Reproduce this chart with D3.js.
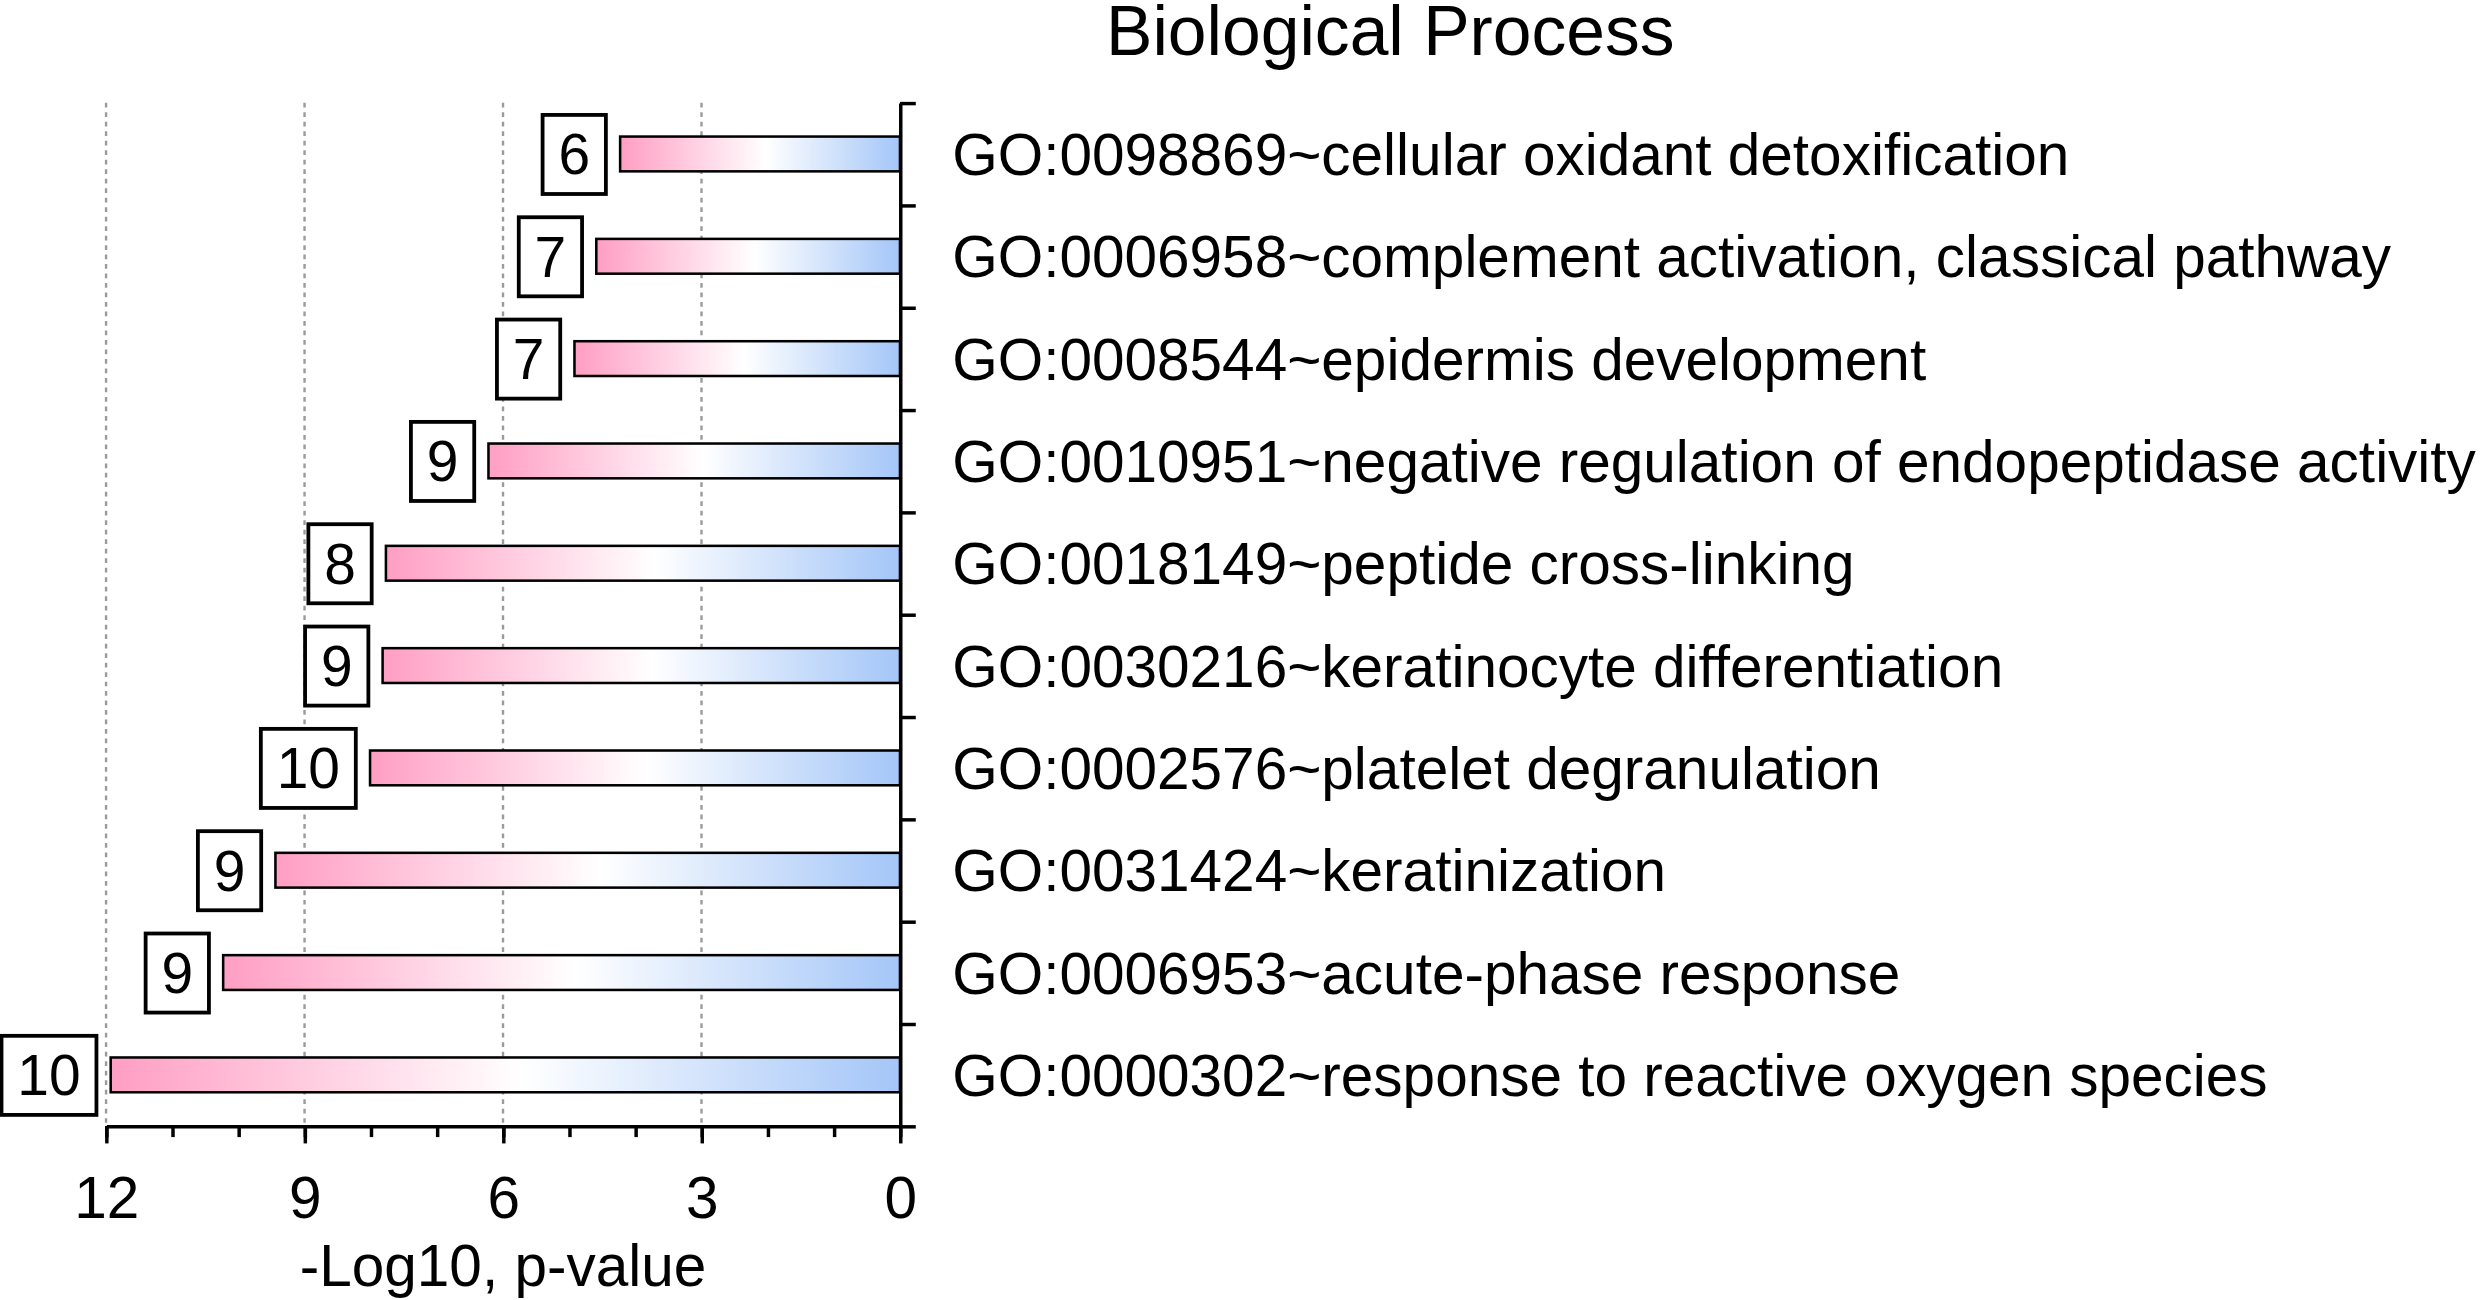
<!DOCTYPE html>
<html lang="en">
	<head>
		<meta charset="UTF-8" />
		<script src="https://cdnjs.cloudflare.com/ajax/libs/d3/7.8.5/d3.min.js"></script>
		<title>Biological Process</title>
		<style>
			html, body { margin: 0; padding: 0; background: #fff; }
			text { font-family: 'Liberation Sans', Arial, sans-serif; fill: #000; }
		</style>
	</head>
	<body>
		<div class="chart"></div>

		<script>
			// data (top row first)
			const terms = [
				'GO:0098869~cellular oxidant detoxification',
				'GO:0006958~complement activation, classical pathway',
				'GO:0008544~epidermis development',
				'GO:0010951~negative regulation of endopeptidase activity',
				'GO:0018149~peptide cross-linking',
				'GO:0030216~keratinocyte differentiation',
				'GO:0002576~platelet degranulation',
				'GO:0031424~keratinization',
				'GO:0006953~acute-phase response',
				'GO:0000302~response to reactive oxygen species'
			]
			const logP = [4.23, 4.59, 4.92, 6.22, 7.77, 7.82, 8.01, 9.44, 10.23, 11.93]
			const counts = [6, 7, 7, 9, 8, 9, 10, 9, 9, 10]
			const xTicks = [12, 9, 6, 3, 0]

			const data = terms.map((t, i) => ({ term: t, v: logP[i], n: counts[i] }))

			// drawing space is 1568 x 822, scaled up to the window
			const W = 1568
			const H = 822
			const svg = d3
				.select('.chart')
				.append('svg')
				.attr('width', 2480)
				.attr('height', 1300)
				.attr('viewBox', `0 0 ${W} ${H}`)

			const plotLeft = 67
			const plotRight = 569
			const plotTop = 65
			const plotBottom = 712

			const xScale = d3.scaleLinear().domain([12, 0]).range([plotLeft, plotRight])
			const yScale = d3
				.scaleBand()
				.domain(terms)
				.range([plotTop, plotBottom])
				.paddingInner(0.66)
				.paddingOuter(0.33)
			// row boundaries for the tick marks
			const yEdge = d3.scaleLinear().domain([0, terms.length]).range([plotTop, plotBottom])

			// gradient pink -> white -> blue
			const grad = svg
				.append('defs')
				.append('linearGradient')
				.attr('id', 'barGrad')
				.attr('x1', '0%')
				.attr('x2', '100%')
			grad.append('stop').attr('offset', '0%').attr('stop-color', '#ff9ec3')
			grad.append('stop').attr('offset', '52%').attr('stop-color', '#ffffff')
			grad.append('stop').attr('offset', '100%').attr('stop-color', '#a4c6f8')

			// grid
			svg
				.append('g')
				.selectAll('line')
				.data(xTicks.filter(d => d !== 0))
				.join('line')
				.attr('x1', d => xScale(d))
				.attr('x2', d => xScale(d))
				.attr('y1', plotTop)
				.attr('y2', plotBottom)
				.attr('stroke', '#9a9a9a')
				.attr('stroke-width', 1.5)
				.attr('stroke-dasharray', '3,3')

			// bars
			svg
				.append('g')
				.selectAll('rect')
				.data(data)
				.join('rect')
				.attr('x', d => xScale(d.v))
				.attr('y', d => yScale(d.term))
				.attr('width', d => xScale(0) - xScale(d.v))
				.attr('height', yScale.bandwidth())
				.attr('fill', 'url(#barGrad)')
				.attr('stroke', '#000')
				.attr('stroke-width', 1.6)

			// count boxes
			const boxes = svg.append('g').selectAll('g').data(data).join('g')
			boxes
				.append('text')
				.attr('class', 'cnt')
				.attr('x', d => xScale(d.v) - 19)
				.attr('y', d => yScale(d.term) + yScale.bandwidth() / 2)
				.attr('dy', '0.36em')
				.attr('text-anchor', 'end')
				.attr('font-size', 36)
				.text(d => d.n)
			boxes.each(function () {
				const g = d3.select(this)
				const b = g.select('text').node().getBBox()
				const cy = b.y + b.height / 2
				g.insert('rect', 'text')
					.attr('x', b.x - 10)
					.attr('y', cy - 25)
					.attr('width', b.width + 20)
					.attr('height', 50)
					.attr('fill', '#fff')
					.attr('stroke', '#000')
					.attr('stroke-width', 2.4)
			})

			// y axis with ticks on row boundaries
			const yAxis = svg
				.append('g')
				.attr('transform', `translate(${plotRight},0)`)
				.call(d3.axisRight(yEdge).ticks(10).tickSize(10).tickSizeOuter(0).tickFormat(''))
			yAxis.select('.domain').attr('stroke-width', 2.2)
			yAxis.selectAll('.tick line').attr('stroke-width', 2.2)

			// x axis: minor ticks every 1, major every 3
			const xAxisG = svg.append('g').attr('transform', `translate(0,${plotBottom})`)
			xAxisG
				.append('g')
				.call(d3.axisBottom(xScale).tickValues(d3.range(0, 13)).tickSize(7).tickSizeOuter(0).tickFormat(''))
				.call(g => g.selectAll('.tick line').attr('stroke-width', 2.2))
				.call(g => g.select('.domain').attr('stroke-width', 2.2))
			xAxisG
				.append('g')
				.call(d3.axisBottom(xScale).tickValues(xTicks).tickSize(11).tickSizeOuter(0).tickPadding(21))
				.call(g => g.select('.domain').remove())
				.call(g => g.selectAll('.tick line').attr('stroke-width', 2.2))
				.call(g => g.selectAll('text').attr('font-size', 37).attr('font-family', null))

			// labels
			svg
				.append('g')
				.selectAll('text')
				.data(data)
				.join('text')
				.attr('x', 602)
				.attr('y', d => yScale(d.term) + yScale.bandwidth() / 2)
				.attr('dy', '0.36em')
				.attr('font-size', 37)
				.text(d => d.term)

			// titles
			svg
				.append('text')
				.attr('x', 879)
				.attr('y', 35)
				.attr('text-anchor', 'middle')
				.attr('font-size', 44)
				.text('Biological Process')

			svg
				.append('text')
				.attr('x', (plotLeft + plotRight) / 2)
				.attr('y', 813)
				.attr('text-anchor', 'middle')
				.attr('font-size', 37)
				.text('-Log10, p-value')
		</script>
	</body>
</html>
